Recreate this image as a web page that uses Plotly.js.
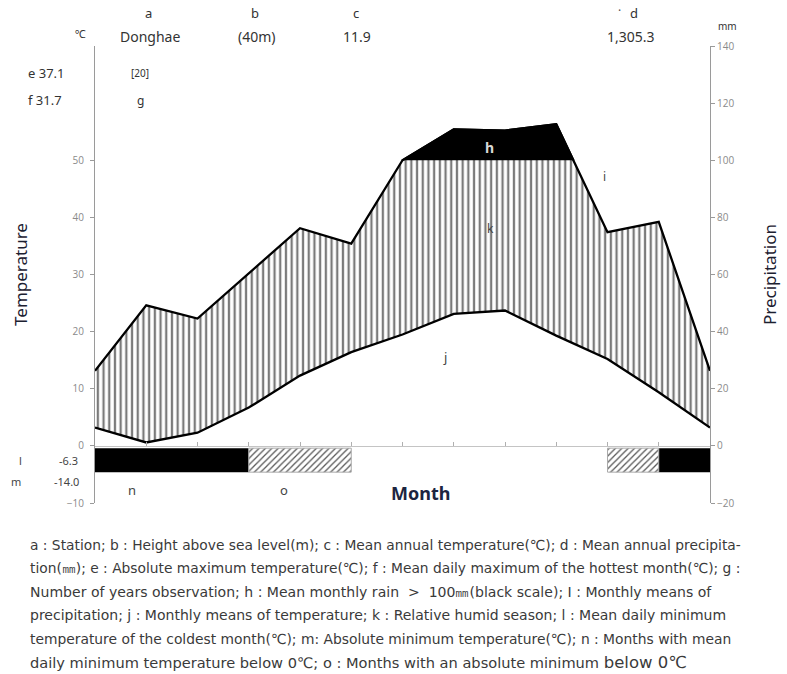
<!DOCTYPE html>
<html>
<head>
<meta charset="utf-8">
<script src="https://cdn.plot.ly/plotly-3.0.1.min.js"></script>
<style>html,body{margin:0;padding:0;background:#fff;}#chart{width:787px;height:674px;}</style>
</head>
<body>
<div id="chart"></div>
<script>
// ---- data ----
const station = 'Donghae';
const heightAboveSea = '(40m)';
const meanAnnualTemp = '11.9';
const meanAnnualPrecip = '1,305.3';
const absMaxTemp = '37.1';
const meanMaxHottest = '31.7';
const yearsObserved = '[20]';
const meanMinColdest = '-6.3';
const absMinTemp = '-14.0';

// monthly curve points (month boundaries, Jan .. Jan)
const temperature = [3.2, 0.6, 2.3, 6.7, 12.3, 16.4, 19.5, 23.1, 23.7, 19.3, 15.2, 9.4, 3.2];      // °C
const precipitation = [26.3, 49.2, 44.6, 60.5, 76.2, 70.8, 100.0, 110.8, 110.4, 112.6, 74.8, 78.4, 26.3]; // mm
// per month frost flag: 2 = mean daily minimum below 0°C (n), 1 = absolute minimum below 0°C (o), 0 = none
const frostFlag = [2, 2, 2, 1, 1, 0, 0, 0, 0, 0, 1, 2];

const tempTicks = [-10, 0, 10, 20, 30, 40, 50];
const precipTicks = [-20, 0, 20, 40, 60, 80, 100, 120, 140];
const MM_PER_DEGREE = 2;

const captionLines = [
  'a : Station; b : Height above sea level(m); c : Mean annual temperature(\u2103); d : Mean annual precipita-',
  'tion(\u339c); e : Absolute maximum temperature(\u2103); f : Mean daily maximum of the hottest month(\u2103); g :',
  'Number of years observation; h : Mean monthly rain  >  100\u339c(black scale); I : Monthly means of',
  'precipitation; j : Monthly means of temperature; k : Relative humid season; l : Mean daily minimum',
  'temperature of the coldest month(\u2103); m: Absolute minimum temperature(\u2103); n : Months with mean',
  'daily minimum temperature below 0\u2103; o : Months with an absolute minimum <span style="font-size:16.5px">below 0\u2103</span>'
];

// ---- layout helpers ----
const L = 95, R = 710, T = 46, B = 503, W = 787, H = 674;
const P = (px, py) => ({x: (px - L) / (R - L), y: (B - py) / (B - T)});

const xs = temperature.map((_, i) => i);
const precipInDeg = precipitation.map(v => v / MM_PER_DEGREE);

// contiguous runs of frost months -> one bar per run
function runs(flag) {
  const out = {x: [], w: []};
  let start = -1;
  for (let i = 0; i <= frostFlag.length; i++) {
    const on = i < frostFlag.length && frostFlag[i] === flag;
    if (on && start < 0) start = i;
    if (!on && start >= 0) { out.x.push((start + i) / 2); out.w.push(i - start); start = -1; }
  }
  return out;
}
const nRuns = runs(2), oRuns = runs(1);

const traces = [
  // hatched humid area: between temperature and precipitation
  {x: xs, y: temperature, yaxis: 'y', mode: 'lines', line: {width: 0, color: 'rgba(0,0,0,0)'}, hoverinfo: 'skip', showlegend: false},
  {x: xs, y: precipInDeg, yaxis: 'y', mode: 'lines', line: {width: 0, color: 'rgba(0,0,0,0)'}, fill: 'tonexty',
   fillcolor: 'rgba(0,0,0,0)',
   fillpattern: {shape: '|', size: 5.7, solidity: 0.4, fgcolor: '#7a7a7a', bgcolor: '#ffffff', fillmode: 'replace'},
   hoverinfo: 'skip', showlegend: false},
  // frost month bars
  {type: 'bar', x: nRuns.x, y: nRuns.x.map(() => -4.2), base: -0.4, width: nRuns.w, yaxis: 'y',
   marker: {color: '#000', line: {width: 0}}, showlegend: false, hoverinfo: 'skip'},
  {type: 'bar', x: oRuns.x, y: oRuns.x.map(() => -4.2), base: -0.4, width: oRuns.w, yaxis: 'y',
   marker: {color: '#fff', line: {width: 1, color: '#aaa'}, pattern: {shape: '/', size: 4.5, solidity: 0.28, fgcolor: '#555', bgcolor: '#fff'}},
   showlegend: false, hoverinfo: 'skip'},
  // temperature line
  {x: xs, y: temperature, yaxis: 'y', mode: 'lines', line: {color: '#000', width: 2.3}, showlegend: false},
  // precipitation line (right axis)
  {x: xs, y: precipitation, yaxis: 'y2', mode: 'lines', line: {color: '#000', width: 2.3}, showlegend: false},
  // black area: precipitation above 100 mm (clipped by the upper sub-domain)
  {x: xs, y: precipitation, yaxis: 'y3', mode: 'lines', line: {color: '#000', width: 2.3}, fill: 'tozeroy', fillcolor: '#000', showlegend: false}
];

const gray = '#9a9a9a';
const tickFont = {family: 'Open Sans, sans-serif', size: 10, color: '#8a8a8a'};
const txt = (px, py, text, opts = {}) => Object.assign({
  xref: 'paper', yref: 'paper', x: P(px, py).x, y: P(px, py).y, text: text, showarrow: false,
  xanchor: 'center', yanchor: 'middle',
  font: {family: 'Noto Sans, Open Sans, sans-serif', size: 13, color: '#333'}
}, opts);

const annotations = [
  txt(80, 34, '\u2103', {font: {family: 'Noto Sans', size: 11, color: '#333'}}),
  txt(148, 13, 'a'), txt(150, 36, station, {font: {family: 'Noto Sans', size: 14, color: '#333'}}),
  txt(255, 13, 'b'), txt(257, 36, heightAboveSea, {font: {family: 'Noto Sans', size: 14, color: '#333'}}),
  txt(356, 13, 'c'), txt(357, 36, meanAnnualTemp, {font: {family: 'Noto Sans', size: 14, color: '#333'}}),
  txt(619, 10, '\u00b7', {font: {family: 'Noto Sans', size: 12, color: '#555'}}),
  txt(634, 13, 'd'), txt(631, 36, meanAnnualPrecip, {font: {family: 'Noto Sans', size: 14, color: '#333'}}),
  txt(727, 26, 'mm', {font: {family: 'Noto Sans', size: 10, color: '#333'}}),
  txt(26, 73, 'e ' + absMaxTemp, {xanchor: 'left', font: {family: 'Noto Sans', size: 13, color: '#333'}}),
  txt(26, 100, 'f ' + meanMaxHottest, {xanchor: 'left', font: {family: 'Noto Sans', size: 13, color: '#333'}}),
  txt(140, 73, yearsObserved, {font: {family: 'Noto Sans', size: 10, color: '#333'}}),
  txt(140, 100, 'g', {font: {family: 'Noto Sans', size: 12, color: '#333'}}),
  txt(489, 147, 'h', {font: {family: 'Noto Sans', size: 14, color: '#d8d8d8', weight: 'bold'}}),
  txt(604, 176, 'i', {font: {family: 'Noto Sans', size: 12, color: '#444'}}),
  txt(490, 228, 'k', {font: {family: 'Noto Sans', size: 12, color: '#444'}}),
  txt(445, 357, 'j', {font: {family: 'Noto Sans', size: 13, color: '#444'}}),
  txt(20, 460, 'l', {font: {family: 'Noto Sans', size: 11, color: '#444'}}),
  txt(80, 460, meanMinColdest, {xanchor: 'right', font: {family: 'Noto Sans', size: 11, color: '#444'}}),
  txt(16, 481, 'm', {font: {family: 'Noto Sans', size: 11, color: '#444'}}),
  txt(81, 481, absMinTemp, {xanchor: 'right', font: {family: 'Noto Sans', size: 11, color: '#444'}}),
  txt(132, 490, 'n', {font: {family: 'Noto Sans', size: 13, color: '#444'}}),
  txt(284, 490, 'o', {font: {family: 'Noto Sans', size: 13, color: '#444'}}),
  txt(421, 493, 'Month', {font: {family: 'Noto Sans', size: 18, color: '#1c2540', weight: 'bold'}})
];
const captionSizes = [13.8, 13.8, 14.05, 14.0, 13.85, 14.6];
captionLines.forEach((line, i) => {
  annotations.push(txt(28, 545 + i * 23.4, line, {xanchor: 'left', font: {family: 'DejaVu Sans', size: captionSizes[i], color: '#3a3a3a'}}));
});

const layout = {
  width: W, height: H,
  margin: {l: L, r: W - R, t: T, b: H - B, pad: 0},
  paper_bgcolor: '#fff', plot_bgcolor: 'rgba(0,0,0,0)',
  showlegend: false, barmode: 'overlay',
  xaxis: {range: [0, 12], anchor: 'free', position: 10 / 80, showline: true, linecolor: '#c4c4c4', linewidth: 1,
          tickvals: xs.slice(1, -1), ticks: 'inside', ticklen: 4, tickcolor: '#b0b0b0', showticklabels: false,
          showgrid: false, zeroline: false, fixedrange: true},
  yaxis: {range: [-10, 70], tickvals: tempTicks, ticks: 'outside', ticklen: 4, tickcolor: gray, showline: true, linecolor: gray,
          linewidth: 1, showgrid: false, zeroline: false, tickfont: tickFont, ticklabelstandoff: 4,
          title: {text: 'Temperature', font: {family: 'Noto Sans', size: 17, color: '#1c2030'}, standoff: 34}},
  yaxis2: {range: [-20, 140], overlaying: 'y', side: 'right', tickvals: precipTicks, ticks: 'outside', ticklen: 4, tickcolor: gray,
           showline: true, linecolor: gray, linewidth: 1, showgrid: false, zeroline: false, tickfont: tickFont,
           title: {text: 'Precipitation', font: {family: 'Noto Sans', size: 17, color: '#1c2030'}, standoff: 30}},
  yaxis3: {domain: [0.75, 1], range: [100, 140], anchor: 'x', visible: false, showgrid: false, zeroline: false},
  annotations: annotations
};

Plotly.newPlot('chart', traces, layout, {staticPlot: true, displayModeBar: false});
</script>
</body>
</html>
